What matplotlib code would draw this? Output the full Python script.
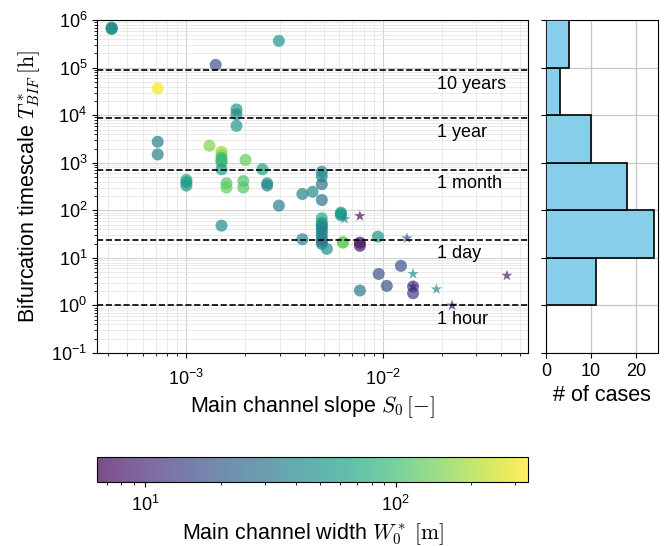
import numpy as np
import matplotlib
matplotlib.use("Agg")
import matplotlib.pyplot as plt
from matplotlib.colors import LogNorm
from matplotlib.ticker import FuncFormatter, NullFormatter, NullLocator, LogLocator

plt.rcParams["font.family"] = ["Liberation Sans", "DejaVu Sans"]
plt.rcParams["mathtext.fontset"] = "cm"

# circles: experiments / simulations
circle_slope = [
    4.16e-4, 4.16e-4, 4.16e-4, 2.96e-3, 1.41e-3,
    7.14e-4, 1.8e-3, 1.8e-3,
    1.8e-3, 7.14e-4, 7.14e-4, 1.31e-3, 1.51e-3, 1.51e-3, 1.51e-3, 1.51e-3, 1.51e-3, 2.0e-3,
    1.51e-3, 2.44e-3, 4.9e-3, 4.9e-3, 1.0e-3, 1.0e-3, 1.0e-3, 1.6e-3, 1.6e-3,
    1.95e-3, 1.95e-3, 2.58e-3, 2.58e-3, 4.9e-3, 3.9e-3, 4.4e-3, 4.9e-3, 2.96e-3,
    1.51e-3, 3.9e-3, 4.9e-3, 4.9e-3, 4.9e-3, 4.9e-3, 4.9e-3, 4.9e-3, 4.9e-3, 4.9e-3,
    4.9e-3, 4.9e-3, 5.2e-3, 6.13e-3, 6.13e-3, 6.13e-3, 6.28e-3, 6.28e-3, 7.66e-3, 7.66e-3,
    9.46e-3,
    1.24e-2, 9.55e-3, 1.05e-2, 7.66e-3, 1.43e-2, 1.43e-2,
]
circle_T = [
    6.5e5, 7.0e5, 6.8e5, 3.67e5, 1.15e5,
    3.67e4, 1.33e4, 1.05e4,
    6.0e3, 2.77e3, 1.5e3, 2.29e3, 1.71e3, 1.45e3, 1.25e3, 1.1e3, 1.02e3, 1.15e3,
    730, 730, 650, 520, 437, 390, 333, 370, 302,
    415, 302, 370, 333, 355, 221, 246, 165, 126,
    47.7, 24.7, 68, 55, 50, 46, 40, 35, 30, 25,
    22, 19.7, 15.5, 89.5, 85, 79, 20.9, 21.5, 20.9, 18,
    28,
    6.8, 4.6, 2.58, 2.06, 2.5, 1.81,
]
circle_W = [
    45, 42, 48, 50, 18,
    330, 50, 40,
    55, 35, 35, 160, 190, 170, 80, 90, 100, 130,
    60, 60, 40, 45, 70, 60, 55, 120, 130,
    110, 120, 45, 40, 30, 40, 45, 30, 35,
    45, 40, 75, 55, 50, 45, 40, 35, 40, 33,
    40, 30, 45, 70, 60, 50, 150, 130, 7, 8,
    50,
    17, 18, 17, 32, 13, 13,
]

# stars: field cases
star_slope = [6.4e-3, 7.66e-3, 1.33e-2, 1.43e-2, 1.43e-2, 1.88e-2, 4.3e-2, 2.26e-2]
star_T = [66, 76, 26, 4.6, 2.5, 2.2, 4.25, 1.0]
star_W = [45, 8, 17, 50, 9, 45, 9, 9]

ref_T = [1, 24, 720, 8760, 87600]
ref_labels = ["1 hour", "1 day", "1 month", "1 year", "10 years"]

hist_bins = 10.0 ** np.arange(-1, 7)

LABEL_FS = 15.5
TICK_FS = 13


def pow10(v, pos):
    if v <= 0:
        return ""
    return r"$\mathregular{10^{%d}}$" % int(round(np.log10(v)))


fig = plt.figure(figsize=(6.64, 5.46), dpi=100)
ax = fig.add_axes([0.146, 0.3535, 0.649, 0.6095])
axh = fig.add_axes([0.823, 0.3535, 0.168, 0.6095])
cax = fig.add_axes([0.146, 0.117, 0.649, 0.046])

norm = LogNorm(vmin=6.4, vmax=337)
sc = ax.scatter(circle_slope, circle_T, c=circle_W, cmap="viridis", norm=norm,
                s=75, alpha=0.7, linewidths=0, zorder=3)
ax.scatter(star_slope, star_T, c=star_W, cmap="viridis", norm=norm,
           s=72, marker="*", alpha=0.7, linewidths=0, zorder=3)

for t, lab in zip(ref_T, ref_labels):
    ax.axhline(t, color="black", ls="--", lw=1.2, zorder=4)
    ax.text(0.019, t / 1.97, lab, fontsize=13, va="center", ha="left", zorder=5)

ax.set_xscale("log")
ax.set_yscale("log")
ax.set_xlim(3.5e-4, 0.055)
ax.set_ylim(1e-1, 1e6)
ax.yaxis.set_major_locator(LogLocator(base=10, numticks=10))
ax.yaxis.set_minor_locator(LogLocator(base=10, subs=np.arange(2, 10), numticks=20))
for a in (ax.xaxis, ax.yaxis):
    a.set_major_formatter(FuncFormatter(pow10))
    a.set_minor_formatter(NullFormatter())
ax.grid(which="major", color="0.82", lw=0.8, zorder=0)
ax.grid(which="minor", color="0.9", lw=0.6, zorder=0)
ax.tick_params(labelsize=TICK_FS)
ax.tick_params(axis="x", which="major", pad=8)
ax.set_xlabel(r"Main channel slope $S_0\,[-]$", fontsize=LABEL_FS)
ax.set_ylabel(r"Bifurcation timescale $T^*_{BIF}\,[\mathrm{h}]$", fontsize=LABEL_FS,
              labelpad=7)

# histogram of all cases
all_T = list(circle_T) + list(star_T)
axh.hist(all_T, bins=hist_bins, orientation="horizontal", color="skyblue",
         edgecolor="black", lw=1.2, zorder=3)
axh.set_yscale("log")
axh.set_ylim(1e-1, 1e6)
axh.set_xlim(0, 25)
axh.set_xticks([0, 10, 20])
axh.yaxis.set_major_locator(LogLocator(base=10, numticks=10))
axh.yaxis.set_minor_locator(NullLocator())
axh.yaxis.set_major_formatter(NullFormatter())
axh.grid(color="0.78", lw=0.9, zorder=0)
axh.tick_params(labelsize=TICK_FS)
axh.set_xlabel("# of cases", fontsize=LABEL_FS)

cb = fig.colorbar(sc, cax=cax, orientation="horizontal")
cb.ax.minorticks_on()
cb.ax.xaxis.set_major_formatter(FuncFormatter(pow10))
cb.ax.xaxis.set_minor_formatter(NullFormatter())
cb.ax.tick_params(labelsize=TICK_FS)
cb.ax.tick_params(axis="x", which="major", pad=6)
cb.set_label(r"Main channel width $W_0^*\;[\mathrm{m}]$", fontsize=LABEL_FS)

fig.savefig("out.png", dpi=100)
